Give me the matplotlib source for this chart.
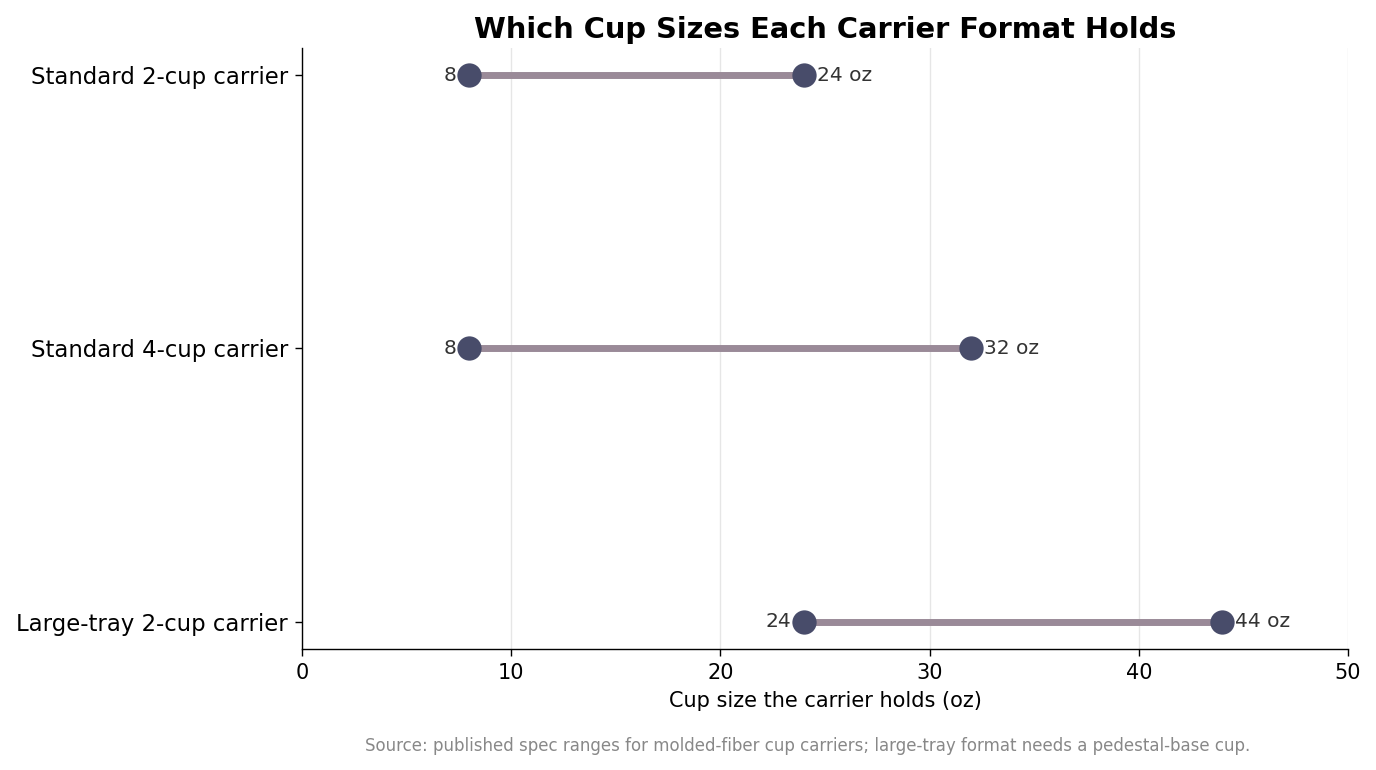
import matplotlib
matplotlib.use("Agg")
import matplotlib.pyplot as plt

categories = ["Standard 2-cup carrier", "Standard 4-cup carrier", "Large-tray 2-cup carrier"]
min_oz = [8, 8, 24]
max_oz = [24, 32, 44]
xticks = [0, 10, 20, 30, 40, 50]

fig = plt.figure(figsize=(13.76, 7.7), dpi=100)
ax = fig.add_axes([302/1376, 1-649/770, (1348-302)/1376, (649-48)/770])

ypos = list(range(len(categories)))
line_c = "#9a8a98"
dot_c = "#484c6a"
for y, lo, hi in zip(ypos, min_oz, max_oz):
    ax.plot([lo, hi], [y, y], color=line_c, lw=5, solid_capstyle="butt", zorder=2)
    ax.plot([lo, hi], [y, y], "o", color=dot_c, ms=17.5, zorder=3, markeredgewidth=0)
    ax.annotate(f"{lo}", (lo, y), xytext=(-9, 0), textcoords="offset points",
                ha="right", va="center", fontsize=14.5, color="#333333")
    ax.annotate(f"{hi} oz", (hi, y), xytext=(9, 0), textcoords="offset points",
                ha="left", va="center", fontsize=14.5, color="#333333")

ax.set_yticks(ypos)
ax.set_yticklabels(categories, fontsize=16.4)
ax.set_ylim(len(categories) - 1 + 0.1, -0.1)
ax.set_xlim(0, 50)
ax.set_xticks(xticks)
ax.tick_params(axis="x", labelsize=15, pad=5)
ax.tick_params(axis="y", pad=5)
ax.tick_params(axis="both", length=5, width=1)
ax.set_xlabel("Cup size the carrier holds (oz)", fontsize=15, labelpad=6)
ax.grid(axis="x", color="#e6e6e6", lw=1)
ax.set_axisbelow(True)
for s in ["top", "right"]:
    ax.spines[s].set_visible(False)
for s in ["left", "bottom"]:
    ax.spines[s].set_linewidth(1)
ax.set_title("Which Cup Sizes Each Carrier Format Holds", fontsize=20.8, fontweight="bold", pad=7)
fig.text(808/1376, 1-746/770, "Source: published spec ranges for molded-fiber cup carriers; large-tray format needs a pedestal-base cup.",
         ha="center", va="center", fontsize=12, color="#888888")
fig.savefig("out.png", dpi=100)
